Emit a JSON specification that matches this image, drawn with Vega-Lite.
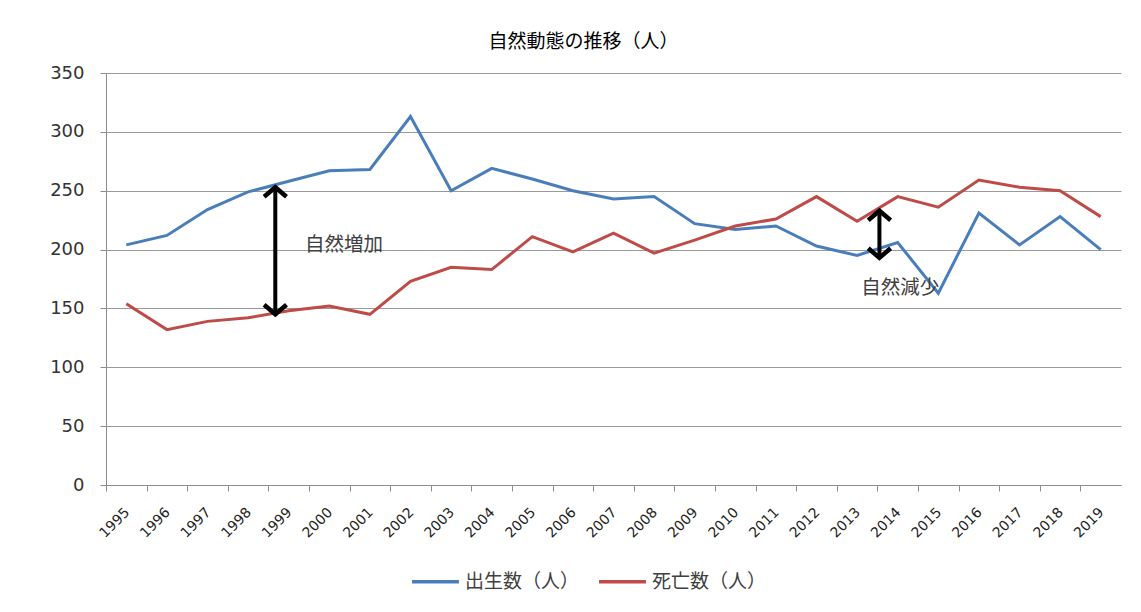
{
  "$schema": "https://vega.github.io/schema/vega-lite/v6.json",
  "width": 1015,
  "height": 412,
  "autosize": {"type": "none"},
  "padding": {"left": 106, "top": 73, "right": 20, "bottom": 127},
  "background": "white",
  "title": {
    "text": "自然動態の推移（人）",
    "font": "Noto Sans CJK JP",
    "fontSize": 19,
    "fontWeight": "normal",
    "color": "#000000",
    "anchor": "middle",
    "dx": -30,
    "offset": 12
  },
  "config": {
    "view": {"stroke": null},
    "font": "Noto Sans CJK JP"
  },
  "datasets": {
    "trend": [
      {"year": 1995, "series": "出生数（人）", "value": 204},
      {"year": 1996, "series": "出生数（人）", "value": 212},
      {"year": 1997, "series": "出生数（人）", "value": 234},
      {"year": 1998, "series": "出生数（人）", "value": 249},
      {"year": 1999, "series": "出生数（人）", "value": 258},
      {"year": 2000, "series": "出生数（人）", "value": 267},
      {"year": 2001, "series": "出生数（人）", "value": 268},
      {"year": 2002, "series": "出生数（人）", "value": 313},
      {"year": 2003, "series": "出生数（人）", "value": 250},
      {"year": 2004, "series": "出生数（人）", "value": 269},
      {"year": 2005, "series": "出生数（人）", "value": 260},
      {"year": 2006, "series": "出生数（人）", "value": 250},
      {"year": 2007, "series": "出生数（人）", "value": 243},
      {"year": 2008, "series": "出生数（人）", "value": 245},
      {"year": 2009, "series": "出生数（人）", "value": 222},
      {"year": 2010, "series": "出生数（人）", "value": 217},
      {"year": 2011, "series": "出生数（人）", "value": 220},
      {"year": 2012, "series": "出生数（人）", "value": 203},
      {"year": 2013, "series": "出生数（人）", "value": 195},
      {"year": 2014, "series": "出生数（人）", "value": 206},
      {"year": 2015, "series": "出生数（人）", "value": 163},
      {"year": 2016, "series": "出生数（人）", "value": 231},
      {"year": 2017, "series": "出生数（人）", "value": 204},
      {"year": 2018, "series": "出生数（人）", "value": 228},
      {"year": 2019, "series": "出生数（人）", "value": 200},
      {"year": 1995, "series": "死亡数（人）", "value": 154},
      {"year": 1996, "series": "死亡数（人）", "value": 132},
      {"year": 1997, "series": "死亡数（人）", "value": 139},
      {"year": 1998, "series": "死亡数（人）", "value": 142},
      {"year": 1999, "series": "死亡数（人）", "value": 148},
      {"year": 2000, "series": "死亡数（人）", "value": 152},
      {"year": 2001, "series": "死亡数（人）", "value": 145},
      {"year": 2002, "series": "死亡数（人）", "value": 173},
      {"year": 2003, "series": "死亡数（人）", "value": 185},
      {"year": 2004, "series": "死亡数（人）", "value": 183},
      {"year": 2005, "series": "死亡数（人）", "value": 211},
      {"year": 2006, "series": "死亡数（人）", "value": 198},
      {"year": 2007, "series": "死亡数（人）", "value": 214},
      {"year": 2008, "series": "死亡数（人）", "value": 197},
      {"year": 2009, "series": "死亡数（人）", "value": 208},
      {"year": 2010, "series": "死亡数（人）", "value": 220},
      {"year": 2011, "series": "死亡数（人）", "value": 226},
      {"year": 2012, "series": "死亡数（人）", "value": 245},
      {"year": 2013, "series": "死亡数（人）", "value": 224},
      {"year": 2014, "series": "死亡数（人）", "value": 245},
      {"year": 2015, "series": "死亡数（人）", "value": 236},
      {"year": 2016, "series": "死亡数（人）", "value": 259},
      {"year": 2017, "series": "死亡数（人）", "value": 253},
      {"year": 2018, "series": "死亡数（人）", "value": 250},
      {"year": 2019, "series": "死亡数（人）", "value": 228}
    ],
    "notes": [
      {"label": "自然増加", "year": 1998.67, "upper": 253, "lower": 145, "textYear": 1999.4, "textValue": 204},
      {"label": "自然減少", "year": 2013.55, "upper": 233, "lower": 193, "textYear": 2013.1, "textValue": 167}
    ]
  },
  "layer": [
    {
      "data": {"name": "trend"},
      "mark": {"type": "line", "strokeWidth": 3},
      "encoding": {
        "x": {
          "field": "year",
          "type": "quantitative",
          "scale": {"domain": [1994.5, 2019.5], "nice": false, "zero": false},
          "axis": {
            "title": null,
            "values": [1995, 1996, 1997, 1998, 1999, 2000, 2001, 2002, 2003, 2004, 2005, 2006, 2007, 2008, 2009, 2010, 2011, 2012, 2013, 2014, 2015, 2016, 2017, 2018, 2019],
            "format": "d",
            "grid": false,
            "labelAngle": -45,
            "labelFont": "DejaVu Sans",
            "labelFontSize": 14,
            "labelColor": "#222222",
            "labelPadding": 14,
            "tickOffset": -20.3,
            "labelOffset": 16,
            "tickSize": 6,
            "tickColor": "#8c8c8c",
            "domainColor": "#8c8c8c",
            "labelOverlap": false,
            "labelFlush": false
          }
        },
        "y": {
          "field": "value",
          "type": "quantitative",
          "scale": {"domain": [0, 350], "nice": false},
          "axis": {
            "title": null,
            "values": [0, 50, 100, 150, 200, 250, 300, 350],
            "grid": true,
            "gridColor": "#9a9a9a",
            "gridWidth": 1.2,
            "domainColor": "#8c8c8c",
            "tickColor": "#8c8c8c",
            "tickSize": 6,
            "labelFont": "DejaVu Sans",
            "labelFontSize": 18,
            "labelColor": "#333333",
            "labelPadding": 16
          }
        },
        "color": {
          "field": "series",
          "type": "nominal",
          "scale": {"domain": ["出生数（人）", "死亡数（人）"], "range": ["#4a7ebb", "#be4b48"]},
          "legend": {
            "title": null,
            "orient": "none",
            "direction": "horizontal",
            "legendX": 304,
            "legendY": 483,
            "symbolType": "stroke",
            "symbolSize": 2200,
            "symbolStrokeWidth": 3.5,
            "labelFont": "Noto Sans CJK JP",
            "labelFontSize": 19,
            "labelColor": "#404040",
            "labelOffset": 4,
            "columnPadding": 12
          }
        }
      }
    },
    {
      "data": {"name": "notes"},
      "mark": {"type": "rule", "strokeWidth": 4, "color": "#000000"},
      "encoding": {
        "x": {"field": "year", "type": "quantitative"},
        "y": {"field": "upper", "type": "quantitative"},
        "y2": {"field": "lower"}
      }
    },
    {
      "data": {"name": "notes"},
      "mark": {"type": "point", "shape": "M-1,0.85L0,0L1,0.85", "filled": false, "stroke": "#000000", "strokeWidth": 4.5, "size": 500, "opacity": 1},
      "encoding": {
        "x": {"field": "year", "type": "quantitative"},
        "y": {"field": "upper", "type": "quantitative"}
      }
    },
    {
      "data": {"name": "notes"},
      "mark": {"type": "point", "shape": "M-1,-0.85L0,0L1,-0.85", "filled": false, "stroke": "#000000", "strokeWidth": 4.5, "size": 500, "opacity": 1},
      "encoding": {
        "x": {"field": "year", "type": "quantitative"},
        "y": {"field": "lower", "type": "quantitative"}
      }
    },
    {
      "data": {"name": "notes"},
      "mark": {"type": "text", "align": "left", "baseline": "middle", "font": "Noto Sans CJK JP", "fontSize": 19.5, "color": "#404040"},
      "encoding": {
        "x": {"field": "textYear", "type": "quantitative"},
        "y": {"field": "textValue", "type": "quantitative"},
        "text": {"field": "label"}
      }
    }
  ]
}
